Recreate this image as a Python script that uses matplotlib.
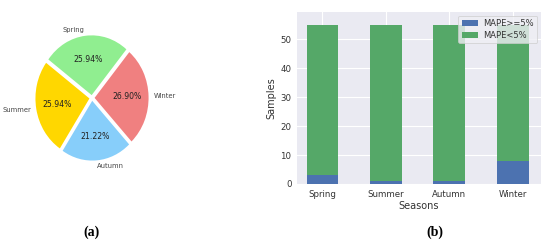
import matplotlib
matplotlib.use("Agg")
import matplotlib.pyplot as plt
import numpy as np

# Pie data
seasons = ["Spring", "Summer", "Autumn", "Winter"]
pie_pct = [25.94, 25.94, 21.22, 26.90]
pie_colors = ["lightgreen", "gold", "lightskyblue", "lightcoral"]

# Bar data
mape_high = [3, 1, 1, 8]     # MAPE>=5%
mape_low = [52, 54, 54, 47]  # MAPE<5%
yticks = [0, 10, 20, 30, 40, 50]

plt.rcParams['font.family'] = ['DejaVu Sans']

fig = plt.figure(figsize=(5.5, 2.44), dpi=100)

# ---- (a) pie ----
axp = fig.add_axes([0.054, 0.316, 0.2265, 0.565])
wedges, texts, autotexts = axp.pie(
    pie_pct, labels=seasons, colors=pie_colors, explode=[0.05] * 4, radius=1.04,
    startangle=50, autopct='%1.2f%%', pctdistance=0.6, labeldistance=1.1,
    textprops={'fontsize': 4.9, 'color': '#444444'})
for t in autotexts:
    t.set_fontsize(5.6)
    t.set_color('#222222')
axp.set_aspect('auto')
axp.set_xlim(-1.2, 1.2)
axp.set_ylim(-1.2, 1.2)

# ---- (b) stacked bars ----
axb = fig.add_axes([0.54, 0.246, 0.444, 0.705])
axb.set_facecolor('#EAEAF2')
for s in axb.spines.values():
    s.set_visible(False)
axb.grid(True, color='white', linewidth=0.8)
axb.set_axisbelow(True)
x = np.arange(len(seasons))
axb.bar(x, mape_high, width=0.5, color='#4C72B0', label='MAPE>=5%')
axb.bar(x, mape_low, width=0.5, bottom=mape_high, color='#55A868', label='MAPE<5%')
axb.set_xticks(x)
axb.set_xticklabels(seasons)
axb.set_yticks(yticks)
axb.set_ylim(0, 59.5)
axb.set_xlim(-0.4, 3.45)
axb.tick_params(axis='both', length=0, labelsize=6.2, labelcolor='#333333', pad=4)
axb.set_xlabel('Seasons', fontsize=7, color='#333333', labelpad=1.5)
axb.set_ylabel('Samples', fontsize=7, color='#333333', labelpad=3)
leg = axb.legend(loc='upper right', fontsize=6, frameon=True, borderaxespad=0.45,
                 handlelength=2, handletextpad=0.6, labelspacing=0.3)
leg.get_frame().set_facecolor('#EEEEF4')
leg.get_frame().set_edgecolor('#CCCCCC')
leg.get_frame().set_linewidth(0.6)
for t in leg.get_texts():
    t.set_color('#333333')

# captions
fig.text(92 / 550, 1 - 232 / 244, '(a)', ha='center', va='center', fontsize=10,
         fontweight='bold', family='Liberation Serif')
fig.text(435 / 550, 1 - 232 / 244, '(b)', ha='center', va='center', fontsize=10,
         fontweight='bold', family='Liberation Serif')

fig.savefig('out.png', dpi=100)
